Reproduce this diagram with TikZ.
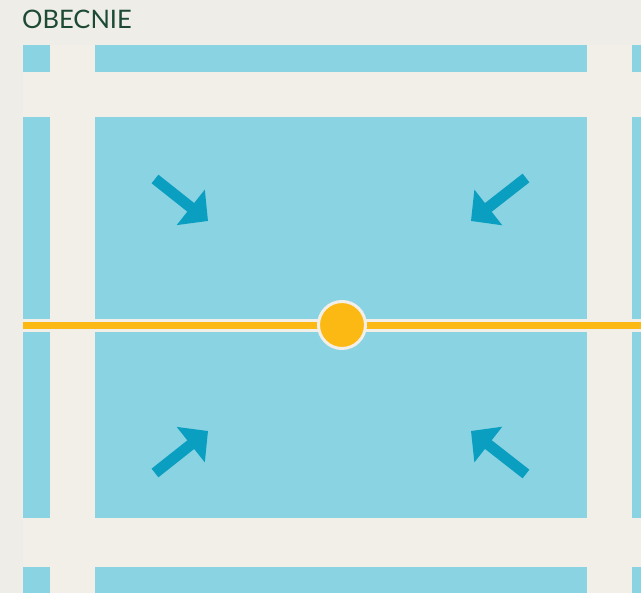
\documentclass[tikz,border=0pt]{standalone}
\usepackage{fontspec}
\setmainfont{Lato}
\usepackage{xcolor}
\usetikzlibrary{arrows.meta, positioning}

\definecolor{margin}{HTML}{EFEDE7}
\definecolor{paper}{HTML}{F2EFE9}
\definecolor{blockblue}{HTML}{8AD3E2}
\definecolor{flowblue}{HTML}{0A9FC1}
\definecolor{routeorange}{HTML}{FDB913}
\definecolor{titlegreen}{HTML}{1C4A33}

\begin{document}
\begin{tikzpicture}[x=1pt, y=-1pt,
  block/.style={fill=blockblue},
  flow/.style={draw=flowblue, line width=11pt,
    -{Triangle[length=22pt 0, width=44pt 0]}},
  route/.style={draw=routeorange, line width=6.5pt},
  casing/.style={draw=paper, line width=13pt},
  stop/.style={circle, fill=routeorange, draw=paper, line width=3pt,
    minimum size=47pt, inner sep=0pt}]
  \fill[margin] (0,0) rectangle (641,593);
  \useasboundingbox (0,0) rectangle (641,593);
  \fill[paper] (23,45) rectangle (641,593);
  \node[font=\fontsize{25.5}{30}\selectfont, text=titlegreen, anchor=base west,
    inner sep=0pt] (title) at (22,29) {OBECNIE};
  % city blocks
  \foreach \xa/\xb in {23/50, 95/587, 632/641} {
    \foreach \ya/\yb in {45/72, 117/518, 567/593} {
      \fill[block] (\xa,\ya) rectangle (\xb,\yb);
    }
  }
  % line with its stop
  \coordinate (west) at (23,325.5);
  \coordinate (east) at (641,325.5);
  \draw[casing] (west) -- (east);
  \draw[route] (west) -- (east);
  \node[stop] (stop) at (342,325) {};
  % arrows pointing in
  \foreach \n/\sx/\sy/\tx/\ty in {
    nw/155/179/208/221, ne/526/178/471/221,
    sw/155/473/208/431, se/526/474/471/431} {
    \coordinate (from\n) at (\sx,\sy);
    \coordinate (to\n) at (\tx,\ty);
    \draw[flow] (from\n) -- (to\n);
  }
\end{tikzpicture}
\end{document}
